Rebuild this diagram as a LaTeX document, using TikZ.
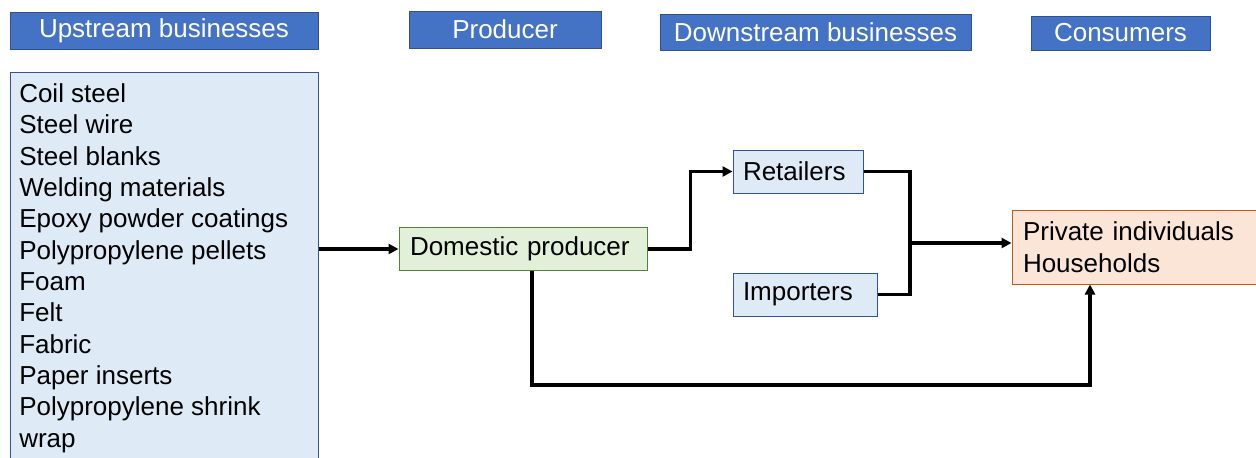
\documentclass[tikz,border=0pt]{standalone}
\usepackage{fontspec}
\setmainfont{Liberation Sans}
\usetikzlibrary{arrows.meta}

\definecolor{hdrfill}{HTML}{4472C4}
\definecolor{hdrline}{HTML}{2F528F}
\definecolor{bluefill}{HTML}{DEEBF7}
\definecolor{blueline}{HTML}{2F5597}
\definecolor{greenfill}{HTML}{E2F0D9}
\definecolor{greenline}{HTML}{548235}
\definecolor{orangefill}{HTML}{FBE5D6}
\definecolor{orangeline}{HTML}{C55A11}

\tikzset{
  txt/.style={font=\fontsize{19.5}{23.5}\selectfont},
  header/.style={txt, draw=hdrline, fill=hdrfill, text=white, line width=0.75pt, inner sep=0pt},
  bluebox/.style={txt, draw=blueline, fill=bluefill, line width=0.75pt},
  greenbox/.style={txt, draw=greenline, fill=greenfill, line width=0.75pt},
  orangebox/.style={txt, draw=orangeline, fill=orangefill, line width=0.75pt},
  link/.style={line width=2.5pt, line join=miter},
  arr/.style={link, -{Triangle[length=7.5pt,width=7.5pt]}}
}

\begin{document}
\begin{tikzpicture}[x=0.75pt,y=-0.75pt]
\clip (0,0) rectangle (1256,457);

% column headers
\node[header, minimum width=231pt, minimum height=27.75pt] (hu) at (164,30.5) {Upstream businesses};
\node[header, minimum width=144pt, minimum height=27.75pt] (hp) at (505,29.5) {Producer};
\node[header, minimum width=233.25pt, minimum height=27pt] (hd) at (815.5,32) {Downstream businesses};
\node[header, minimum width=134.25pt, minimum height=25.5pt] (hc) at (1120.5,33) {Consumers};

% upstream inputs
\node[bluebox, anchor=north west, minimum width=231pt, minimum height=300pt] (up) at (10,72) {};
\node[txt, anchor=north west, align=left, inner sep=0pt] (uptext) at (19,83.5)
  {Coil steel\\Steel wire\\Steel blanks\\Welding materials\\Epoxy powder coatings\\Polypropylene pellets\\Foam\\Felt\\Fabric\\Paper inserts\\Polypropylene shrink\\wrap};

% producer and distribution
\node[greenbox, minimum width=186pt, minimum height=32.25pt, inner xsep=8.25pt, text width=169.5pt, align=left] (dp) at (523,249) {Domestic producer};
\node[bluebox, minimum width=97.5pt, minimum height=32.25pt, inner xsep=7.5pt, text width=82.5pt, align=left] (ret) at (798,171.5) {Retailers};
\node[bluebox, minimum width=108pt, minimum height=32.25pt, inner xsep=7.5pt, text width=93pt, align=left] (imp) at (805,294.5) {Importers};
\node[orangebox, minimum width=193.5pt, minimum height=55.5pt, inner xsep=8.25pt, text width=177pt, align=left,
      font=\fontsize{19.5}{24}\selectfont] (pri) at (1141,247) {Private individuals\\Households};

% connectors
\coordinate (m) at (910,243);
\coordinate (c1) at (532,385);
\coordinate (c2) at (1090,385);

\draw[arr] (up.east |- dp.west) -- (dp.west);
\draw[arr] (dp.east) -- ++(43,0) |- (ret.west);
\draw[link] (ret.east) -| (m);
\draw[link] (imp.east) -| (m);
\draw[arr] (m) -- (pri.west |- m);
\draw[arr] (dp.south -| c1) -- (c1) -- (c2) -- (c2 |- pri.south);
\end{tikzpicture}
\end{document}
